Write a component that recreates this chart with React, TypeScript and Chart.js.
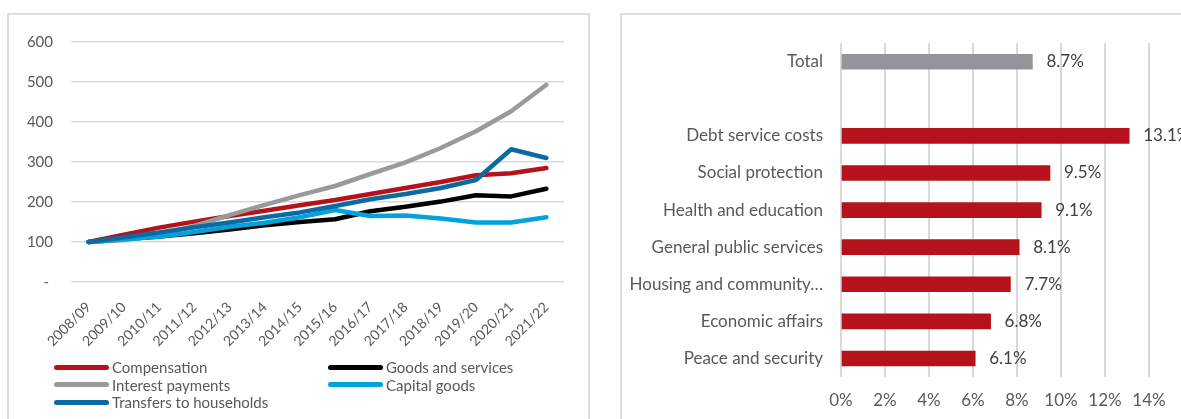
import React, { useEffect, useRef } from 'react';
import { Chart, registerables } from 'chart.js';

Chart.register(...registerables);

// ---------- Left chart data ----------
const years = [
  '2008/09', '2009/10', '2010/11', '2011/12', '2012/13', '2013/14', '2014/15',
  '2015/16', '2016/17', '2017/18', '2018/19', '2019/20', '2020/21', '2021/22',
];
const compensation = [100, 118, 136, 151, 165, 178, 192, 205, 220, 235, 250, 267, 272, 285];
const goodsAndServices = [100, 107, 114, 122, 131, 142, 150, 157, 177, 188, 201, 217, 214, 233];
const interestPayments = [100, 105, 118, 140, 167, 193, 217, 240, 270, 299, 335, 377, 427, 493];
const capitalGoods = [100, 107, 113, 125, 138, 148, 162, 180, 165, 166, 159, 149, 149, 162];
const transfersToHouseholds = [100, 112, 124, 137, 149, 162, 174, 190, 207, 220, 235, 255, 332, 310];
const leftYTicks = [0, 100, 200, 300, 400, 500, 600];

// ---------- Right chart data ----------
const categories = [
  'Total', '', 'Debt service costs', 'Social protection', 'Health and education',
  'General public services', 'Housing and community…', 'Economic affairs', 'Peace and security',
];
const growthRates: (number | null)[] = [8.7, null, 13.1, 9.5, 9.1, 8.1, 7.7, 6.8, 6.1];
const rightXTicks = [0, 2, 4, 6, 8, 10, 12, 14];

// ---------- Styles ----------
const RED = '#b5121b';
const GREY = '#949598';
const TEXT = '#595959';
const GRID = '#d9d9d9';
const FONT = 'Lato';

const series = [
  { name: 'Compensation', data: compensation, color: RED, order: 4 },
  { name: 'Goods and services', data: goodsAndServices, color: '#000000', order: 3 },
  { name: 'Interest payments', data: interestPayments, color: '#9a9a9a', order: 2 },
  { name: 'Capital goods', data: capitalGoods, color: '#00a3da', order: 1 },
  { name: 'Transfers to households', data: transfersToHouseholds, color: '#0b6aa2', order: 0 },
];

const valueLabels = {
  id: 'valueLabels',
  afterDatasetsDraw(chart: any) {
    const ctx = chart.ctx;
    const meta = chart.getDatasetMeta(0);
    ctx.save();
    ctx.font = `17px ${FONT}`;
    ctx.fillStyle = '#404040';
    ctx.textBaseline = 'middle';
    ctx.textAlign = 'left';
    meta.data.forEach((bar: any, i: number) => {
      const v = growthRates[i];
      if (v == null) return;
      ctx.fillText(v.toFixed(1) + '%', bar.x + 14, bar.y);
    });
    ctx.restore();
  },
};

export default function App() {
  const leftRef = useRef<HTMLCanvasElement>(null);
  const rightRef = useRef<HTMLCanvasElement>(null);

  useEffect(() => {
    let cancelled = false;
    let left: Chart | null = null;
    let right: Chart | null = null;

    const build = () => {
      if (cancelled || !leftRef.current || !rightRef.current) return;
      left = new Chart(leftRef.current, {
        type: 'line',
        data: {
          labels: years,
          datasets: series.map((s) => ({
            label: s.name,
            data: s.data,
            borderColor: s.color,
            backgroundColor: s.color,
            borderWidth: 4.5,
            pointRadius: 0,
            tension: 0,
            order: s.order,
            borderCapStyle: 'round' as const,
            borderJoinStyle: 'round' as const,
          })),
        },
        options: {
          animation: false,
          responsive: false,
          maintainAspectRatio: false,
          layout: { padding: { left: 0, right: 25, top: 27, bottom: 0 } },
          plugins: { legend: { display: false }, tooltip: { enabled: false } },
          scales: {
            x: {
              offset: true,
              grid: { display: false, drawTicks: false },
              border: { display: false },
              ticks: {
                autoSkip: false,
                minRotation: 45,
                maxRotation: 45,
                color: TEXT,
                font: { family: FONT, size: 14 },
                padding: 17,
              },
              afterFit: (s: any) => {
                s.height = 137;
              },
            },
            y: {
              min: 0,
              max: 600,
              afterBuildTicks: (s: any) => {
                s.ticks = leftYTicks.map((v) => ({ value: v }));
              },
              ticks: {
                color: TEXT,
                font: { family: FONT, size: 15 },
                padding: 18,
                callback: (v: any) => (Number(v) === 0 ? '- ' : String(v)),
              },
              grid: { color: GRID, lineWidth: 1.5, drawTicks: false },
              border: { display: false },
              afterFit: (s: any) => {
                s.width = 62;
              },
            },
          },
        },
      });

      right = new Chart(rightRef.current, {
        type: 'bar',
        data: {
          labels: categories,
          datasets: [
            {
              data: growthRates,
              backgroundColor: categories.map((_, i) => (i === 0 ? GREY : RED)),
              barThickness: 15,
            },
          ],
        },
        options: {
          animation: false,
          responsive: false,
          maintainAspectRatio: false,
          indexAxis: 'y',
          layout: { padding: { left: 0, right: 32, top: 28, bottom: 0 } },
          plugins: { legend: { display: false }, tooltip: { enabled: false } },
          scales: {
            x: {
              min: 0,
              max: 14,
              afterBuildTicks: (s: any) => {
                s.ticks = rightXTicks.map((v) => ({ value: v }));
              },
              ticks: {
                color: TEXT,
                font: { family: FONT, size: 17 },
                padding: 13,
                callback: (v: any) => `${v}%`,
              },
              grid: { color: GRID, lineWidth: 2, drawTicks: false },
              border: { display: false },
              afterFit: (s: any) => {
                s.height = 42;
              },
            },
            y: {
              grid: { display: false, drawTicks: false },
              border: { display: false },
              ticks: {
                autoSkip: false,
                color: TEXT,
                font: { family: FONT, size: 17 },
                padding: 18,
              },
              afterFit: (s: any) => {
                s.width = 219;
              },
            },
          },
        },
        plugins: [valueLabels],
      });
    };

    const fontsReady = (document as any).fonts
      ? Promise.all([
          (document as any).fonts.load(`15px ${FONT}`),
          (document as any).fonts.load(`17px ${FONT}`),
        ]).catch(() => null)
      : Promise.resolve(null);
    fontsReady.then(build);

    return () => {
      cancelled = true;
      if (left) left.destroy();
      if (right) right.destroy();
    };
  }, []);

  const legendRows = [
    [0, 0],
    [1, 0],
    [0, 1],
    [1, 1],
    [0, 2],
  ];

  return (
    <div
      style={{
        position: 'absolute',
        left: 0,
        top: 0,
        width: 1181,
        height: 419,
        overflow: 'hidden',
        background: '#ffffff',
        fontFamily: FONT,
      }}
    >
      <div
        style={{
          position: 'absolute',
          left: 7,
          top: 13,
          width: 583,
          height: 500,
          border: `2px solid #dedede`,
          boxSizing: 'border-box',
        }}
      />
      <div
        style={{
          position: 'absolute',
          left: 620,
          top: 13,
          width: 700,
          height: 500,
          border: `2px solid #dedede`,
          boxSizing: 'border-box',
        }}
      />
      <canvas
        ref={leftRef}
        width={580}
        height={404}
        style={{ position: 'absolute', left: 9, top: 15, width: 580, height: 404 }}
      />
      <canvas
        ref={rightRef}
        width={559}
        height={404}
        style={{ position: 'absolute', left: 622, top: 15, width: 559, height: 404 }}
      />
      {series.map((s, i) => {
        const [col, row] = legendRows[i];
        const x = col === 0 ? 54 : 328;
        const y = 367 + row * 17.7;
        return (
          <div
            key={s.name}
            style={{
              position: 'absolute',
              left: x,
              top: y - 10,
              height: 20,
              display: 'flex',
              alignItems: 'center',
              whiteSpace: 'nowrap',
            }}
          >
            <span
              style={{
                display: 'inline-block',
                width: 55,
                height: 5,
                borderRadius: 3,
                background: s.color,
              }}
            />
            <span
              style={{
                marginLeft: 3,
                fontSize: 15,
                color: TEXT,
                fontFamily: FONT,
                lineHeight: '20px',
              }}
            >
              {s.name}
            </span>
          </div>
        );
      })}
    </div>
  );
}
